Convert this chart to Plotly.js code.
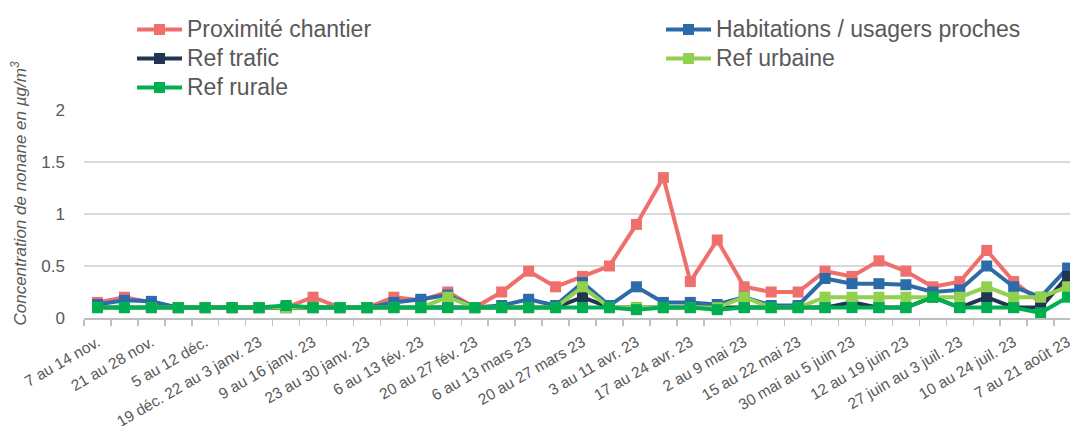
<!DOCTYPE html>
<html><head><meta charset="utf-8">
<script src="https://cdn.plot.ly/plotly-3.0.1.min.js"></script>
<style>html,body{margin:0;padding:0;background:#fff}#chart{width:1070px;height:426px}</style>
</head><body><div id="chart"></div>
<script>
const categories = [
  '7 au 14 nov.', '14 au 21 nov.', '21 au 28 nov.', '28 nov. au 5 déc.', '5 au 12 déc.',
  '12 au 19 déc.', '19 déc. 22 au 3 janv. 23', '3 au 9 janv. 23', '9 au 16 janv. 23', '16 au 23 janv. 23',
  '23 au 30 janv. 23', '30 janv. au 6 fév. 23', '6 au 13 fév. 23', '13 au 20 fév. 23', '20 au 27 fév. 23',
  '27 fév. au 6 mars 23', '6 au 13 mars 23', '13 au 20 mars 23', '20 au 27 mars 23', '27 mars au 3 avr. 23',
  '3 au 11 avr. 23', '11 au 17 avr. 23', '17 au 24 avr. 23', '24 avr. au 2 mai 23', '2 au 9 mai 23',
  '9 au 15 mai 23', '15 au 22 mai 23', '22 au 30 mai 23', '30 mai au 5 juin 23', '5 au 12 juin 23',
  '12 au 19 juin 23', '19 au 27 juin 23', '27 juin au 3 juil. 23', '3 au 10 juil. 23', '10 au 24 juil. 23',
  '24 juil. au 7 août 23', '7 au 21 août 23'
];
const tickLabels = categories.map((c, i) => (i % 2 === 0 ? c : ''));

const proximiteChantier = [0.15, 0.20, 0.15, 0.10, 0.10, 0.10, 0.10, 0.10, 0.20, 0.10,
  0.10, 0.20, 0.17, 0.25, 0.10, 0.25, 0.45, 0.30, 0.40, 0.50,
  0.90, 1.35, 0.35, 0.75, 0.30, 0.25, 0.25, 0.45, 0.40, 0.55,
  0.45, 0.30, 0.35, 0.65, 0.35, 0.15, 0.35];
const habitationsUsagers = [0.13, 0.17, 0.16, 0.10, 0.10, 0.10, 0.10, 0.10, 0.10, 0.10,
  0.10, 0.15, 0.18, 0.22, 0.10, 0.12, 0.18, 0.12, 0.34, 0.12,
  0.30, 0.15, 0.15, 0.13, 0.20, 0.12, 0.12, 0.38, 0.33, 0.33,
  0.32, 0.25, 0.27, 0.50, 0.30, 0.20, 0.48];
const refTrafic = [0.10, 0.10, 0.10, 0.10, 0.10, 0.10, 0.10, 0.10, 0.10, 0.10,
  0.10, 0.10, 0.10, 0.10, 0.10, 0.10, 0.10, 0.10, 0.20, 0.10,
  0.10, 0.10, 0.10, 0.10, 0.10, 0.10, 0.10, 0.10, 0.15, 0.10,
  0.10, 0.20, 0.10, 0.20, 0.10, 0.10, 0.40];
const refUrbaine = [0.10, 0.10, 0.10, 0.10, 0.10, 0.10, 0.10, 0.10, 0.10, 0.10,
  0.10, 0.10, 0.10, 0.20, 0.10, 0.10, 0.10, 0.10, 0.30, 0.10,
  0.10, 0.10, 0.10, 0.10, 0.20, 0.10, 0.10, 0.20, 0.20, 0.20,
  0.20, 0.20, 0.20, 0.30, 0.20, 0.20, 0.30];
const refRurale = [0.10, 0.10, 0.10, 0.10, 0.10, 0.10, 0.10, 0.12, 0.10, 0.10,
  0.10, 0.10, 0.10, 0.10, 0.10, 0.10, 0.10, 0.10, 0.10, 0.10,
  0.08, 0.10, 0.10, 0.08, 0.10, 0.10, 0.10, 0.10, 0.10, 0.10,
  0.10, 0.20, 0.10, 0.10, 0.10, 0.05, 0.20];

const yTickVals = [0, 0.5, 1, 1.5, 2];
const yTickText = ['0', '0.5', '1', '1.5', '2'];

const FONT = '"Liberation Sans", Arial, sans-serif';
const GREY = '#595959';

const series = [
  { name: 'Proximité chantier', y: proximiteChantier, color: '#EF6F6C', legend: 'legend' },
  { name: 'Habitations / usagers proches', y: habitationsUsagers, color: '#2B6CA8', legend: 'legend2' },
  { name: 'Ref trafic', y: refTrafic, color: '#1F3551', legend: 'legend' },
  { name: 'Ref urbaine', y: refUrbaine, color: '#92D050', legend: 'legend2' },
  { name: 'Ref rurale', y: refRurale, color: '#00B050', legend: 'legend' }
];

const traces = series.map(s => ({
  type: 'scatter', mode: 'lines+markers',
  x: categories, y: s.y,
  name: '<span style="font-size:23px">' + s.name + '</span>',
  legend: s.legend,
  line: { color: s.color, width: 4 },
  marker: { symbol: 'square', size: 11, color: s.color },
  cliponaxis: false,
  hoverinfo: 'x+y+name'
}));

const PL = 83.5, PT = 110, PB = 318, W = 1070, H = 426;
const legendCommon = {
  xref: 'container', yref: 'container', xanchor: 'left', yanchor: 'top',
  orientation: 'v', font: { size: 20, color: GREY, family: FONT },
  itemwidth: 45, bgcolor: 'rgba(0,0,0,0)', borderwidth: 0, tracegroupgap: 0
};

const layout = {
  width: W, height: H,
  margin: { l: PL, r: 0, t: PT, b: H - PB, autoexpand: false },
  paper_bgcolor: '#ffffff', plot_bgcolor: '#ffffff',
  font: { family: FONT, color: GREY },
  showlegend: true,
  legend: Object.assign({}, legendCommon, { x: 132 / W, y: 1 - 10 / H }),
  legend2: Object.assign({}, legendCommon, { x: 661 / W, y: 1 - 10 / H }),
  xaxis: {
    type: 'category', range: [-0.5, 36.09],
    tickmode: 'array', tickvals: categories, ticktext: tickLabels,
    tickson: 'boundaries', ticks: 'outside', ticklen: 6, tickwidth: 1.5, tickcolor: '#BFBFBF',
    showline: true, linecolor: '#BFBFBF', linewidth: 1.5,
    showgrid: false, zeroline: false,
    tickangle: -30, tickfont: { size: 15.5, color: GREY, family: FONT },
    ticklabelstandoff: 8,
    automargin: false
  },
  yaxis: {
    range: [0, 2], tickmode: 'array', tickvals: yTickVals, ticktext: yTickText,
    showgrid: true, gridcolor: '#D9D9D9', gridwidth: 1.5,
    zeroline: false, showline: false, ticks: '',
    tickfont: { size: 17, color: GREY, family: FONT },
    ticklabelstandoff: 18, automargin: false
  },
  annotations: [{
    text: '<i>Concentration de nonane en µg/m<sup>3</sup></i>',
    textangle: -90, xref: 'paper', yref: 'paper',
    x: (18 - PL) / (W - PL), y: (PB - 194) / (PB - PT),
    xanchor: 'center', yanchor: 'middle', showarrow: false,
    font: { size: 17, color: GREY, family: FONT }
  }]
};

Plotly.newPlot('chart', traces, layout, { displayModeBar: false, staticPlot: true });
</script>
</body></html>
